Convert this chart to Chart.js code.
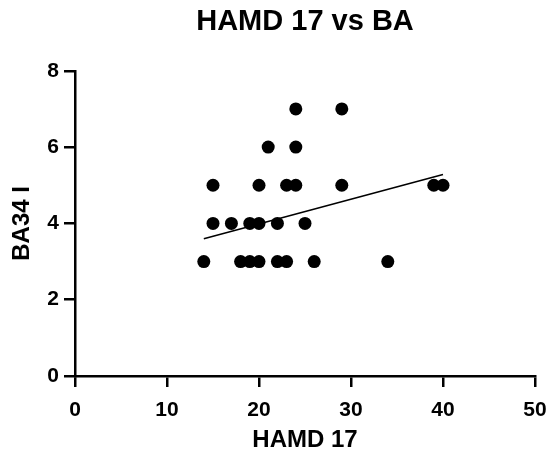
<!DOCTYPE html>
<html><head><meta charset="utf-8">
<script src="https://cdn.jsdelivr.net/npm/chart.js@4.4.0/dist/chart.umd.min.js"></script>
<style>html,body{margin:0;padding:0;background:#fff}</style>
</head><body>
<canvas id="c" width="552" height="458"></canvas>
<script>
const chartTitle = 'HAMD 17 vs BA';
const xTitle = 'HAMD 17';
const yTitle = 'BA34 I';
const hamd = [14,18,19,20,22,23,26,34, 15,17,19,20,22,25, 15,20,23,24,29,39,40, 21,24, 24,29];
const ba34 = [3,3,3,3,3,3,3,3, 4,4,4,4,4,4, 5,5,5,5,5,5,5, 6,6, 7,7];
const fitX = [14, 40];
const fitY = [3.6, 5.28];
const xTicks = [0,10,20,30,40,50];
const yTicks = [0,2,4,6,8];

const FONT = '"Liberation Sans", Arial, sans-serif';
const pts = hamd.map((x,i)=>({x:x,y:ba34[i]}));
const fit = fitX.map((x,i)=>({x:x,y:fitY[i]}));

new Chart(document.getElementById('c'), {
  type: 'scatter',
  data: { datasets: [
    { data: pts, backgroundColor:'#000', borderColor:'#000', pointRadius:6.5, pointHoverRadius:6.5, borderWidth:0 },
    { type:'line', data: fit, borderColor:'#000', borderWidth:1.5, pointRadius:0, fill:false, showLine:true }
  ]},
  options: {
    responsive:false, devicePixelRatio:1, animation:false,
    layout:{ padding:{left:0,right:17,top:0,bottom:0} },
    plugins:{
      legend:{display:false}, tooltip:{enabled:false},
      title:{ display:true, fullSize:false, text:chartTitle, color:'#000', font:{family:FONT, size:29, weight:'bold'}, padding:{top:5,bottom:31} }
    },
    scales:{
      x:{ type:'linear', min:0, max:50,
        afterBuildTicks:(s)=>{ s.ticks = xTicks.map(v=>({value:v})); },
        afterFit:(s)=>{ s.height = 82; s.paddingLeft = 0; s.paddingRight = 0; },
        grid:{ drawOnChartArea:false, drawTicks:true, tickLength:11, color:'#000', lineWidth:2.5 },
        border:{ display:true, color:'#000', width:2.5 },
        ticks:{ color:'#000', padding:11, maxRotation:0, font:{family:FONT, size:21, weight:'bold'} },
        title:{ display:true, text:xTitle, color:'#000', padding:{top:2,bottom:3}, font:{family:FONT, size:24, weight:'bold'} }
      },
      y:{ type:'linear', min:0, max:8,
        afterBuildTicks:(s)=>{ s.ticks = yTicks.map(v=>({value:v})); },
        afterFit:(s)=>{ s.width = 75; },
        grid:{ drawOnChartArea:false, drawTicks:true, tickLength:11, color:'#000', lineWidth:2.5 },
        border:{ display:true, color:'#000', width:2.5 },
        ticks:{ color:'#000', padding:5, font:{family:FONT, size:21, weight:'bold'} },
        title:{ display:true, text:yTitle, color:'#000', padding:{top:8,bottom:0}, font:{family:FONT, size:24, weight:'bold'} }
      }
    }
  }
});
</script>
</body></html>
